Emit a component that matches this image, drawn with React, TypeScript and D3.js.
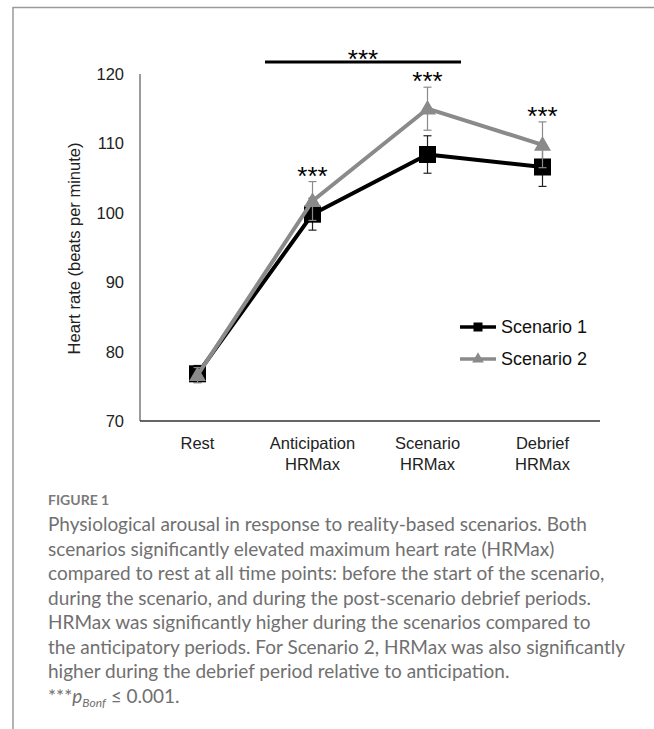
import React from "react";
import * as d3 from "d3";

const categories = ["Rest", "Anticipation\nHRMax", "Scenario\nHRMax", "Debrief\nHRMax"];
const scenario1 = [76.8, 99.8, 108.4, 106.6];
const scenario1Err = [1.2, 2.3, 2.7, 2.8];
const scenario2 = [76.6, 101.7, 115.0, 109.8];
const scenario2Err = [1.1, 2.8, 3.1, 3.3];
const yTicks = [70, 80, 90, 100, 110, 120];
const seriesNames = ["Scenario 1", "Scenario 2"];
const starCategories = [1, 2, 3];
const captionLines = [
  "Physiological arousal in response to reality-based scenarios. Both",
  "scenarios significantly elevated maximum heart rate (HRMax)",
  "compared to rest at all time points: before the start of the scenario,",
  "during the scenario, and during the post-scenario debrief periods.",
  "HRMax was significantly higher during the scenarios compared to",
  "the anticipatory periods. For Scenario 2, HRMax was also significantly",
  "higher during the debrief period relative to anticipation.",
];

const W = 654;
const H = 729;
const FONT = "'Liberation Sans', Arial, Helvetica, sans-serif";
const CAP_FONT = "Lato, 'Open Sans', sans-serif";
const GRAY = "#8a8a8a";
const STAR_SIZE = 26;
const STAR_OFF = 15; // baseline offset so that the asterisks are centred on the given y

export default function App() {
  const x = d3.scaleBand<number>().domain(d3.range(categories.length)).range([140, 600]);
  const y = d3.scaleLinear().domain([70, 120]).range([421, 74]);
  const cx = (i: number) => (x(i) as number) + x.bandwidth() / 2;
  const line = d3
    .line<number>()
    .x((_, i) => cx(i))
    .y((d) => y(d));

  const tri = d3.symbol().type(d3.symbolTriangle).size(125)() as string;
  const triSmall = d3.symbol().type(d3.symbolTriangle).size(60)() as string;

  const errBars = (vals: number[], errs: number[], color: string) =>
    vals.map((v, i) => (
      <g key={i} stroke={color} strokeWidth={1.2} fill="none">
        <line x1={cx(i)} x2={cx(i)} y1={y(v - errs[i])} y2={y(v + errs[i])} />
        <line x1={cx(i) - 4} x2={cx(i) + 4} y1={y(v - errs[i])} y2={y(v - errs[i])} />
        <line x1={cx(i) - 4} x2={cx(i) + 4} y1={y(v + errs[i])} y2={y(v + errs[i])} />
      </g>
    ));

  const starY = (i: number) => {
    const top = Math.max(scenario1[i] + scenario1Err[i], scenario2[i] + scenario2Err[i]);
    return y(top) - 12;
  };

  const bracketY = 62;

  return (
    <svg
      width={W}
      height={H}
      style={{ position: "fixed", left: 0, top: 0, background: "#fff" }}
      fontFamily={FONT}
    >
      <rect width={W} height={H} fill="#fff" />
      <path d={`M13,${H} V7.5 H${W}`} fill="none" stroke="#9a9a9a" strokeWidth={1.5} />

      {/* axes */}
      <line x1={140} x2={140} y1={y(120)} y2={y(70)} stroke="#7a7a7a" strokeWidth={1.5} />
      <line x1={140} x2={600} y1={y(70)} y2={y(70)} stroke="#333" strokeWidth={1.5} />
      {yTicks.map((t) => (
        <text key={t} x={124} y={y(t)} textAnchor="end" dominantBaseline="central" fontSize={16.5} fill="#222">
          {t}
        </text>
      ))}
      <text
        transform={`translate(74,${(y(70) + y(120)) / 2 + 1}) rotate(-90)`}
        textAnchor="middle"
        dominantBaseline="central"
        fontSize={16.5}
        fill="#222"
      >
        Heart rate (beats per minute)
      </text>
      {categories.map((c, i) => (
        <text key={i} x={cx(i)} y={449} textAnchor="middle" fontSize={16.5} fill="#222">
          {c.split("\n").map((s, j) => (
            <tspan key={j} x={cx(i)} dy={j === 0 ? 0 : 21}>
              {s}
            </tspan>
          ))}
        </text>
      ))}

      {/* scenario 1 */}
      {errBars(scenario1, scenario1Err, "#222")}
      <path d={line(scenario1) as string} fill="none" stroke="#000" strokeWidth={4} strokeLinejoin="round" />
      {scenario1.map((v, i) => (
        <rect key={i} x={cx(i) - 8.5} y={y(v) - 8.5} width={17} height={17} fill="#000" />
      ))}

      {/* scenario 2 */}
      {errBars(scenario2, scenario2Err, GRAY)}
      <path d={line(scenario2) as string} fill="none" stroke={GRAY} strokeWidth={4} strokeLinejoin="round" />
      {scenario2.map((v, i) => (
        <path key={i} d={tri} transform={`translate(${cx(i)},${y(v) + 1})`} fill={GRAY} />
      ))}

      {/* significance */}
      {starCategories.map((i) => (
        <text key={i} x={cx(i)} y={starY(i) + STAR_OFF} textAnchor="middle" fontSize={STAR_SIZE} fill="#000">
          ***
        </text>
      ))}
      <line x1={265} x2={461} y1={bracketY} y2={bracketY} stroke="#000" strokeWidth={3} />
      <text x={363} y={bracketY - 9.5 + STAR_OFF} textAnchor="middle" fontSize={STAR_SIZE} fill="#000">
        ***
      </text>

      {/* legend */}
      {seriesNames.map((n, k) => {
        const ly = 327 + k * 32;
        const col = k === 0 ? "#000" : GRAY;
        return (
          <g key={n}>
            <line x1={460} x2={496} y1={ly} y2={ly} stroke={col} strokeWidth={3.5} />
            {k === 0 ? (
              <rect x={473.5} y={ly - 4.5} width={9} height={9} fill="#000" />
            ) : (
              <path d={triSmall} transform={`translate(478,${ly})`} fill={GRAY} />
            )}
            <text x={501} y={ly} dominantBaseline="central" fontSize={18} fill="#111">
              {n}
            </text>
          </g>
        );
      })}

      {/* caption */}
      <text x={48} y={505} fontFamily={CAP_FONT} fontWeight={700} fontSize={14} fill="#7a7a7a">
        FIGURE 1
      </text>
      {captionLines.map((s, i) => (
        <text key={i} x={48} y={531 + i * 24.5} fontFamily={CAP_FONT} fontSize={19} fill="#707070">
          {s}
        </text>
      ))}
      <text x={48} y={531 + 7 * 24.5} fontFamily={CAP_FONT} fontSize={19} fill="#707070">
        ***
        <tspan fontStyle="italic">p</tspan>
        <tspan fontStyle="italic" fontSize={12} dy={4}>
          Bonf
        </tspan>
        <tspan dy={-4}> ≤ 0.001.</tspan>
      </text>
    </svg>
  );
}
